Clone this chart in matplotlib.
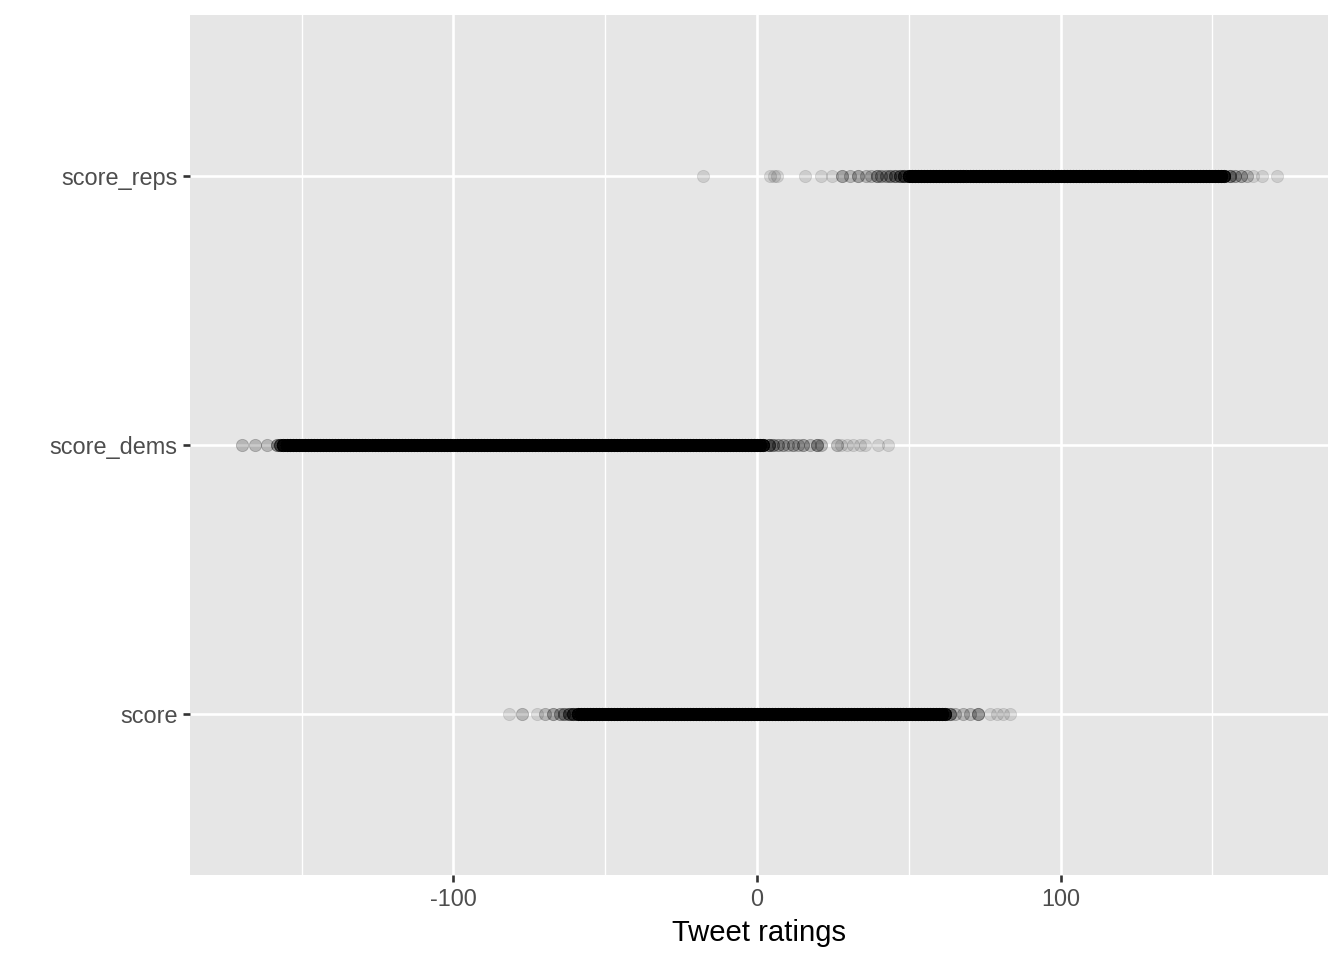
import numpy as np
import matplotlib
matplotlib.use("Agg")
import matplotlib.pyplot as plt
from matplotlib.ticker import FixedLocator

categories = ["score", "score_dems", "score_reps"]

# Tweet ratings: value and how many tweets overlap at that value (dense band = many)
score_vals = [-81.6, -77.5, -72.6, -69.9, -67.2, -65.0, -63.5, -62.0, -60.5,
              -59, -58, -57, -56, -55, -54, -53, -52, -51, -50,
              -49, -48, -47, -46, -45, -44, -43, -42, -41, -40,
              -39, -38, -37, -36, -35, -34, -33, -32, -31, -30,
              -29, -28, -27, -26, -25, -24, -23, -22, -21, -20,
              -19, -18, -17, -16, -15, -14, -13, -12, -11, -10,
              -9, -8, -7, -6, -5, -4, -3, -2, -1, 0,
              1, 2, 3, 4, 5, 6, 7, 8, 9, 10,
              11, 12, 13, 14, 15, 16, 17, 18, 19, 20,
              21, 22, 23, 24, 25, 26, 27, 28, 29, 30,
              31, 32, 33, 34, 35, 36, 37, 38, 39, 40,
              41, 42, 43, 44, 45, 46, 47, 48, 49, 50,
              51, 52, 53, 54, 55, 56, 57, 58, 59, 60,
              61, 62,
              63.5, 65.2, 67.9, 70.2, 72.9, 76.8, 79.0, 81.1, 83.4]
score_counts = [1, 2, 1, 2, 3, 3, 4, 6, 9] + [15] * 122 + [5, 2, 2, 2, 4, 1, 1, 1, 1]

dems_vals = [-169.8, -165.4, -161.5, -158.3, -157.0,
             -156, -155, -154, -153, -152, -151, -150, -149, -148, -147,
             -146, -145, -144, -143, -142, -141, -140, -139, -138, -137,
             -136, -135, -134, -133, -132, -131, -130, -129, -128, -127,
             -126, -125, -124, -123, -122, -121, -120, -119, -118, -117,
             -116, -115, -114, -113, -112, -111, -110, -109, -108, -107,
             -106, -105, -104, -103, -102, -101, -100, -99, -98, -97,
             -96, -95, -94, -93, -92, -91, -90, -89, -88, -87,
             -86, -85, -84, -83, -82, -81, -80, -79, -78, -77,
             -76, -75, -74, -73, -72, -71, -70, -69, -68, -67,
             -66, -65, -64, -63, -62, -61, -60, -59, -58, -57,
             -56, -55, -54, -53, -52, -51, -50, -49, -48, -47,
             -46, -45, -44, -43, -42, -41, -40, -39, -38, -37,
             -36, -35, -34, -33, -32, -31, -30, -29, -28, -27,
             -26, -25, -24, -23, -22, -21, -20, -19, -18, -17,
             -16, -15, -14, -13, -12, -11, -10, -9, -8, -7,
             -6, -5, -4, -3, -2, -1, 0, 1, 2,
             3.8, 5.3, 7.0, 8.6, 10.2, 11.9, 13.5, 15.2, 17.5, 19.8, 21.0,
             26.3, 27.5, 29.5, 31.7, 33.9, 35.6, 40.0, 43.3]
dems_counts = [2, 2, 2, 4, 8] + [15] * 159 + [6, 4, 3, 3, 2, 3, 2, 3, 2, 4, 2,
                                              2, 1, 1, 1, 1, 1, 1, 1]

reps_vals = [-17.9, 4.3, 5.5, 6.5, 15.8, 21.1, 24.6, 28.1, 30.5, 33.3, 36.0, 37.5,
             39.4, 41.0, 42.5, 43.8, 45.5, 47.0, 48.5,
             50, 51, 52, 53, 54, 55, 56, 57, 58, 59,
             60, 61, 62, 63, 64, 65, 66, 67, 68, 69,
             70, 71, 72, 73, 74, 75, 76, 77, 78, 79,
             80, 81, 82, 83, 84, 85, 86, 87, 88, 89,
             90, 91, 92, 93, 94, 95, 96, 97, 98, 99,
             100, 101, 102, 103, 104, 105, 106, 107, 108, 109,
             110, 111, 112, 113, 114, 115, 116, 117, 118, 119,
             120, 121, 122, 123, 124, 125, 126, 127, 128, 129,
             130, 131, 132, 133, 134, 135, 136, 137, 138, 139,
             140, 141, 142, 143, 144, 145, 146, 147, 148, 149,
             150, 151, 152, 153, 154,
             155.8, 157.5, 159.5, 161.3, 163.4, 166.3, 171.2]
reps_counts = [1, 1, 1, 1, 1, 1, 1, 3, 2, 3, 2, 2, 4, 3, 3, 4, 5, 6, 8] + [15] * 105 + \
              [5, 3, 3, 2, 1, 1, 1]

x_ticks = [-100, 0, 100]
x_ticklabels = ["-100", "0", "100"]

plt.rcParams["font.family"] = ["Liberation Sans", "DejaVu Sans"]

fig = plt.figure(figsize=(13.44, 9.6), dpi=100)
ax = fig.add_axes([190 / 1344, 1 - 875 / 960, (1328 - 190) / 1344, (875 - 15) / 960])
ax.set_facecolor("#E6E6E6")

series = [(score_vals, score_counts), (dems_vals, dems_counts), (reps_vals, reps_counts)]
for i, (vals, counts) in enumerate(series):
    xs = np.repeat(np.array(vals, dtype=float), counts)
    ys = np.full(xs.shape, i + 1.0)
    ax.scatter(xs, ys, s=78, color="black", alpha=0.11, linewidths=0.6,
               edgecolors="black", zorder=3)

ax.set_xlim(-186.8, 188.1)
ax.set_ylim(0.4, 3.6)

ax.xaxis.set_major_locator(FixedLocator(x_ticks))
ax.set_xticklabels(x_ticklabels)
ax.xaxis.set_minor_locator(FixedLocator([-150, -50, 50, 150]))
ax.set_yticks([1, 2, 3])
ax.set_yticklabels(categories)

ax.grid(which="major", color="white", linewidth=1.9, zorder=1)
ax.grid(which="minor", axis="x", color="white", linewidth=0.95, zorder=1)
ax.set_axisbelow(True)

for sp in ax.spines.values():
    sp.set_visible(False)

ax.tick_params(axis="both", which="major", length=5, width=1.9, color="#333333",
               labelcolor="#4D4D4D", labelsize=16.9, pad=4)
ax.tick_params(axis="both", which="minor", length=0)

ax.set_xlabel("Tweet ratings", fontsize=21.1, color="black", labelpad=6)

fig.savefig("out.png", dpi=100, facecolor="white")
